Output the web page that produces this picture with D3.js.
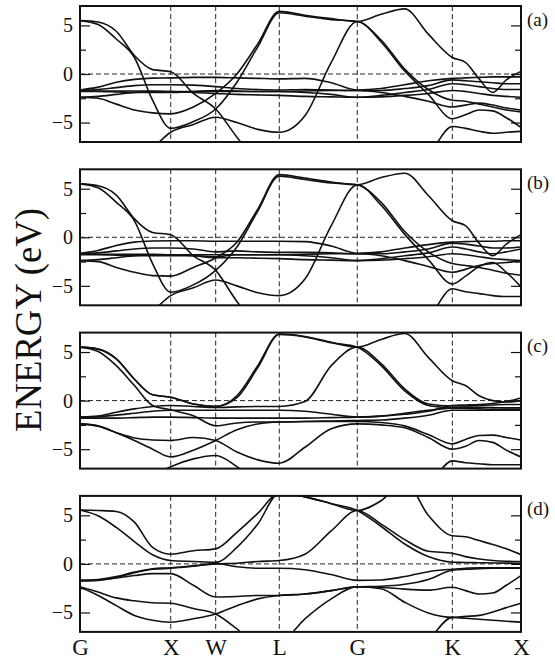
<!DOCTYPE html>
<html>
<head>
<meta charset="utf-8">
<script src="https://cdn.jsdelivr.net/npm/d3@7"></script>
<style>
    body { margin: 0; background: #fff; }
    svg { display: block; font-family: "Liberation Serif", "Times New Roman", serif; }
    svg text { font-family: "Liberation Serif", "Times New Roman", serif; }
</style>
</head>
<body>
<div id="canvas"></div>
<script>
"use strict";

/* ---------------- DATA ---------------- */

// k-path sample points (G X W L G K X)
let kPoints = [0, 0.2, 0.4, 0.6, 0.8, 1.0, 1.25, 1.496, 1.73, 1.96, 2.197, 2.48, 2.77, 3.057,
    3.32, 3.58, 3.84, 4.105, 4.25, 4.4, 4.55, 4.7, 4.862];

let symLabels = ["G", "X", "W", "L", "G", "K", "X"];
let symK = [0, 1.0, 1.496, 2.197, 3.057, 4.105, 4.862];

let panelNames = ["(a)", "(b)", "(c)", "(d)"];
let majorTicks = [-5, 0, 5];
let minorTicks = [-2.5, 2.5];
let energyRange = [-7, 7];

// energies (eV) of each band at kPoints
let bandsA = [
    [5.5, 5.35, 4.4, 1.9, 0.45, 0.24, -2.0, -3.6, -6.5, -9, -9.5, -9.5, -9.5, -9.5, -9.5, -9.5, -8.3, -5.4, -5.6, -5.9, -6.1, -6.0, -5.9],
    [5.5, 5.1, 3.6, 1.7, -2.7, -5.6, -4.9, -3.6, -0.85, 2.8, 6.3, 5.95, 5.6, 5.4, 3.5, 0.5, -1.6, -2.7, -2.8, -3.1, -3.4, -3.7, -3.9],
    [-10, -10, -9.6, -8.8, -7.6, -6.0, -5.2, -4.45, -5.0, -5.7, -6.0, -4.3, 1.2, 5.4, 3.3, 0.3, -2.1, -4.6, -4.2, -3.7, -3.8, -4.5, -5.5],
    [-2.4, -2.5, -3.1, -3.7, -4.0, -4.1, -3.4, -2.0, 0.0, 3.1, 6.45, 6.05, 5.7, 5.4, 6.15, 6.7, 4.1, 1.7, 1.2, -0.5, -1.9, -0.6, 0.27],
    [-1.65, -1.35, -0.85, -0.55, -0.42, -0.4, -0.35, -0.35, -0.4, -0.45, -0.5, -0.45, -0.9, -1.65, -1.5, -1.1, -0.7, -0.45, -0.4, -0.35, -0.3, -0.3, -0.3],
    [-1.7, -1.6, -1.4, -1.2, -1.1, -1.1, -1.15, -1.3, -1.5, -1.6, -1.65, -1.6, -1.65, -1.7, -1.7, -1.5, -1.2, -0.6, -0.7, -0.8, -0.9, -1.0, -1.0],
    [-1.8, -1.8, -1.85, -1.9, -1.9, -1.9, -1.8, -1.7, -1.75, -1.8, -1.8, -1.9, -2.1, -2.4, -2.2, -1.9, -1.6, -1.0, -1.1, -1.3, -1.5, -1.6, -1.6],
    [-2.4, -2.3, -2.1, -1.9, -1.8, -1.8, -1.9, -2.0, -2.1, -2.15, -2.2, -2.3, -2.35, -2.4, -2.35, -2.2, -2.0, -1.7, -1.8, -2.0, -2.2, -2.3, -2.4],
    [-1.75, -1.75, -1.75, -1.75, -1.75, -1.8, -1.8, -1.8, -1.8, -1.8, -1.8, -1.75, -1.7, -1.7, -1.9, -2.3, -2.8, -3.4, -3.2, -3.0, -3.2, -3.5, -3.7]
];

let bandsB = [
    [5.5, 5.3, 4.35, 1.9, 0.5, 0.27, -1.9, -3.4, -6.6, -9, -9.5, -9.5, -9.5, -9.5, -9.5, -9.5, -8.3, -5.3, -5.6, -5.8, -6.0, -6.1, -6.1],
    [5.5, 5.1, 3.6, 1.7, -2.7, -5.65, -4.9, -3.4, -1.0, 2.7, 6.3, 5.95, 5.6, 5.4, 3.6, 0.6, -1.5, -2.7, -2.9, -3.1, -3.4, -3.7, -3.9],
    [-10, -10, -9.6, -8.8, -7.6, -6.0, -5.2, -4.4, -5.0, -5.7, -6.0, -4.3, 1.2, 5.4, 3.3, 0.3, -2.3, -4.8, -4.0, -3.0, -2.6, -3.6, -5.1],
    [-2.4, -2.5, -3.1, -3.6, -3.95, -4.0, -3.1, -2.1, -0.5, 2.9, 6.45, 6.1, 5.7, 5.4, 6.15, 6.6, 4.3, 1.7, 1.2, -0.6, -1.9, -0.7, 0.27],
    [-1.65, -1.35, -0.85, -0.5, -0.38, -0.35, -0.35, -0.4, -0.4, -0.4, -0.4, -0.45, -0.9, -1.65, -1.5, -1.1, -0.75, -0.5, -0.45, -0.4, -0.4, -0.35, -0.35],
    [-1.7, -1.6, -1.4, -1.2, -1.1, -1.1, -1.2, -1.5, -1.4, -1.5, -1.55, -1.55, -1.6, -1.7, -1.7, -1.5, -1.2, -0.6, -0.7, -0.9, -1.1, -1.1, -1.0],
    [-1.8, -1.8, -1.85, -1.9, -1.9, -1.9, -1.9, -2.0, -1.8, -1.8, -1.8, -1.9, -2.1, -2.4, -2.2, -1.9, -1.6, -1.0, -1.2, -1.5, -1.7, -1.5, -1.2],
    [-2.4, -2.3, -2.1, -1.9, -1.8, -1.8, -1.9, -2.1, -2.1, -2.15, -2.2, -2.3, -2.35, -2.4, -2.35, -2.2, -2.0, -1.7, -1.8, -2.0, -2.2, -2.3, -2.4],
    [-1.75, -1.75, -1.75, -1.75, -1.75, -1.8, -1.8, -1.8, -1.8, -1.8, -1.8, -1.75, -1.7, -1.7, -1.9, -2.4, -3.0, -3.6, -3.3, -2.9, -2.7, -2.6, -2.4]
];

let bandsC = [
    [5.5, 5.3, 4.3, 2.2, 0.6, 0.35, -0.35, -0.6, 0.5, 3.6, 6.85, 6.6, 6.0, 5.5, 6.3, 6.9, 4.45, 2.05, 1.55, 0.5, 0.0, -0.15, 0.0],
    [5.5, 5.3, 4.3, 2.2, 0.6, 0.35, -0.35, -0.6, 0.3, 3.4, 6.8, 6.55, 5.95, 5.5, 3.6, 1.0, -0.5, -0.75, -0.8, -0.85, -0.9, -0.9, -0.9],
    [5.5, 5.05, 3.6, 1.55, -0.5, -0.95, -1.55, -2.6, -2.3, -2.2, -2.2, -2.15, -2.1, -2.05, -2.0, -1.8, -1.5, -1.0, -1.0, -1.0, -1.0, -1.0, -1.0],
    [-1.7, -1.6, -1.2, -0.85, -0.6, -0.5, -0.6, -0.7, -0.65, -0.6, -0.6, -0.1, 3.6, 5.5, 3.8, 1.2, -0.35, -0.55, -0.55, -0.5, -0.45, -0.4, -0.4],
    [-2.4, -2.6, -3.3, -4.1, -5.0, -5.8, -5.1, -4.1, -3.0, -2.4, -2.2, -2.15, -2.15, -2.15, -2.25, -2.6, -3.5, -4.45, -4.0, -3.6, -3.55, -3.8, -4.05],
    [-2.4, -2.65, -3.3, -3.85, -4.05, -4.1, -3.8, -4.1, -5.3, -6.1, -6.45, -4.8, -2.9, -2.4, -2.5, -2.8, -3.8, -5.0, -4.7, -4.1, -4.3, -5.1, -5.8],
    [-10, -10, -9.5, -8.8, -7.8, -6.8, -6.0, -5.65, -6.8, -8.5, -9, -9, -9, -9, -9, -9, -8.5, -6.2, -6.4, -6.5, -6.6, -6.6, -6.6],
    [-1.7, -1.65, -1.5, -1.3, -1.1, -1.0, -1.0, -1.0, -1.0, -1.0, -1.0, -1.1, -1.4, -1.7, -1.6, -1.3, -1.0, -0.75, -0.7, -0.7, -0.72, -0.75, -0.75],
    [-1.8, -1.8, -1.8, -1.75, -1.7, -1.7, -1.75, -1.8, -1.8, -1.8, -1.8, -1.8, -1.75, -1.7, -1.6, -1.4, -1.1, -0.5, -0.45, -0.4, -0.3, -0.1, 0.27]
];

let bandsD = [
    [5.55, 5.5, 5.4, 4.3, 1.7, 1.0, 1.35, 1.55, 3.25, 5.2, 7.3, 6.9, 6.2, 5.5, 6.5, 8.5, 5.0, 2.9, 2.8, 2.4, 2.0, 1.55, 0.95],
    [5.55, 4.95, 3.75, 2.3, 0.95, 0.35, 0.25, 0.17, 1.7, 4.1, 7.3, 6.9, 6.2, 5.5, 3.85, 2.05, 0.75, 0.17, 0.15, 0.12, 0.1, 0.08, 0.07],
    [-1.7, -1.6, -1.3, -0.85, -0.5, -0.4, -0.2, 0.0, 0.07, 0.25, 0.35, 1.0, 3.4, 5.5, 4.1, 2.5, 1.3, 1.1, 0.75, 0.5, 0.35, 0.27, 0.24],
    [-1.7, -1.65, -1.45, -1.2, -1.0, -1.0, -2.2, -3.4, -3.35, -3.25, -3.25, -3.1, -2.75, -2.35, -2.4, -2.6, -2.7, -2.4, -2.75, -3.1, -3.0, -2.2, -1.2],
    [-2.35, -2.9, -3.5, -3.8, -4.0, -4.05, -4.6, -5.15, -6.7, -8.5, -8.2, -5.65, -3.6, -2.35, -2.55, -3.95, -5.05, -5.5, -5.4, -5.3, -4.95, -4.5, -4.05],
    [-2.4, -3.25, -4.3, -5.3, -5.8, -6.0, -5.65, -5.15, -4.3, -3.6, -3.25, -3.1, -2.75, -2.35, -2.3, -2.1, -1.6, -0.65, -0.55, -0.5, -0.45, -0.45, -0.45],
    [-10, -10, -10, -10, -10, -10, -10, -10, -10, -10, -10, -10, -10, -10, -10, -9.5, -7.8, -5.5, -5.6, -5.7, -5.8, -5.9, -6.0],
    [-1.75, -1.7, -1.4, -0.9, -0.55, -0.45, -0.25, 0.05, -0.3, -0.45, -0.45, -0.6, -1.1, -1.7, -1.65, -1.3, -0.8, -0.55, -0.45, -0.4, -0.4, -0.4, -0.4]
];

let allBands = [bandsA, bandsB, bandsC, bandsD];

/* ---------------- LAYOUT ---------------- */

let svgWidth = 555;
let svgHeight = 660;

let plotLeft = 80;
let plotRight = 521;
let panelTop = 6;
let panelStep = 163.3;
let panelHeight = 136;

let serif = "'Liberation Serif', 'Times New Roman', serif";

let svg = d3.select("#canvas")
    .append("svg")
    .attr("width", svgWidth)
    .attr("height", svgHeight);

let xScale = d3.scaleLinear()
    .domain([0, symK[symK.length - 1]])
    .range([plotLeft, plotRight]);

/* ---------------- PANELS ---------------- */

allBands.forEach(function (bands, i) {

    let top = panelTop + i * panelStep;

    let yScale = d3.scaleLinear()
        .domain(energyRange)
        .range([top + panelHeight, top]);

    let g = svg.append("g");

    g.append("clipPath")
        .attr("id", "clip" + i)
        .append("rect")
        .attr("x", plotLeft)
        .attr("y", top)
        .attr("width", plotRight - plotLeft)
        .attr("height", panelHeight);

    // dashed guides at high symmetry points
    symK.slice(1, -1).forEach(function (k) {
        g.append("line")
            .attr("x1", xScale(k))
            .attr("x2", xScale(k))
            .attr("y1", top)
            .attr("y2", top + panelHeight)
            .attr("stroke", "#222")
            .attr("stroke-width", 1)
            .attr("stroke-dasharray", "5,3");
    });

    // Fermi level
    g.append("line")
        .attr("x1", plotLeft)
        .attr("x2", plotRight)
        .attr("y1", yScale(0))
        .attr("y2", yScale(0))
        .attr("stroke", "#222")
        .attr("stroke-width", 1)
        .attr("stroke-dasharray", "5,3");

    // bands
    let bandLine = d3.line()
        .x(function (d, j) { return xScale(kPoints[j]); })
        .y(function (d) { return yScale(d); })
        .curve(d3.curveMonotoneX);

    g.append("g")
        .attr("clip-path", "url(#clip" + i + ")")
        .selectAll("path")
        .data(bands)
        .join("path")
        .attr("d", bandLine)
        .attr("fill", "none")
        .attr("stroke", "#111")
        .attr("stroke-width", 1.6);

    // ticks, left (with labels) and right
    let leftMajor = g.append("g")
        .attr("transform", "translate(" + plotLeft + ",0)")
        .call(d3.axisLeft(yScale).tickValues(majorTicks).tickSize(-10).tickPadding(7));

    g.append("g")
        .attr("transform", "translate(" + plotLeft + ",0)")
        .call(d3.axisLeft(yScale).tickValues(minorTicks).tickSize(-6).tickFormat(""));

    g.append("g")
        .attr("transform", "translate(" + plotRight + ",0)")
        .call(d3.axisRight(yScale).tickValues(majorTicks).tickSize(-10).tickFormat(""));

    g.append("g")
        .attr("transform", "translate(" + plotRight + ",0)")
        .call(d3.axisRight(yScale).tickValues(minorTicks).tickSize(-6).tickFormat(""));

    g.selectAll(".domain").remove();
    g.selectAll(".tick line").attr("stroke", "#111").attr("stroke-width", 1.2);

    leftMajor.selectAll("text")
        .style("font-family", serif)
        .attr("font-size", 20)
        .attr("fill", "#111");

    // frame
    g.append("rect")
        .attr("x", plotLeft)
        .attr("y", top)
        .attr("width", plotRight - plotLeft)
        .attr("height", panelHeight)
        .attr("fill", "none")
        .attr("stroke", "#111")
        .attr("stroke-width", 2);

    // panel label
    g.append("text")
        .attr("x", 527)
        .attr("y", top + 19.5)
        .style("font-family", serif)
        .attr("font-size", 19)
        .attr("fill", "#111")
        .text(panelNames[i]);

    // k-point labels under the last panel
    if (i === allBands.length - 1) {
        let xAxis = d3.axisBottom(xScale)
            .tickValues(symK)
            .tickSize(0)
            .tickPadding(7)
            .tickFormat(function (d, j) { return symLabels[j]; });

        let ax = g.append("g")
            .attr("transform", "translate(0," + (top + panelHeight) + ")")
            .call(xAxis);

        ax.select(".domain").remove();
        ax.selectAll("text")
            .style("font-family", serif)
            .attr("font-size", 23)
            .attr("fill", "#111");
    }
});

/* ---------------- AXIS TITLE ---------------- */

svg.append("text")
    .attr("transform", "translate(41,320) rotate(-90)")
    .attr("text-anchor", "middle")
    .style("font-family", serif)
    .attr("font-size", 38)
    .attr("textLength", 224)
    .attr("lengthAdjust", "spacingAndGlyphs")
    .attr("fill", "#111")
    .text("ENERGY (eV)");
</script>
</body>
</html>
